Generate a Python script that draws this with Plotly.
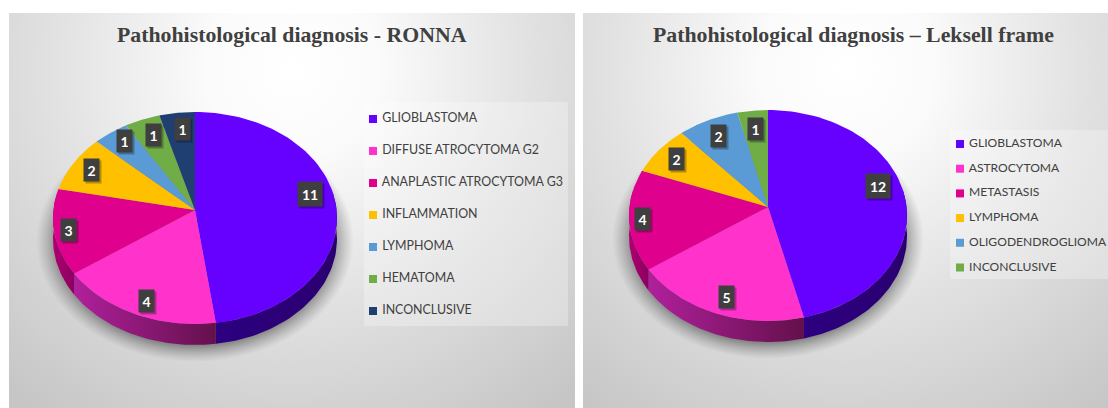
import numpy as np
import plotly.graph_objects as go

# ---- data ----
ronna_title = "Pathohistological diagnosis - RONNA"
ronna_labels = ["GLIOBLASTOMA", "DIFFUSE ATROCYTOMA G2", "ANAPLASTIC ATROCYTOMA G3",
                "INFLAMMATION", "LYMPHOMA", "HEMATOMA", "INCONCLUSIVE"]
ronna_values = [11, 4, 3, 2, 1, 1, 1]
ronna_colors = ["#6600FF", "#FF33CC", "#E0008E", "#FFC000", "#5B9BD5", "#70AD47", "#1F3F73"]

leksell_title = "Pathohistological diagnosis \u2013 Leksell frame"
leksell_labels = ["GLIOBLASTOMA", "ASTROCYTOMA", "METASTASIS", "LYMPHOMA",
                  "OLIGODENDROGLIOMA", "INCONCLUSIVE"]
leksell_values = [12, 5, 4, 2, 2, 1]
leksell_colors = ["#6600FF", "#FF33CC", "#E0008E", "#FFC000", "#5B9BD5", "#70AD47"]

# wall colour pairs (left, right) per slice
wall_left = {"#6600FF": "#2C0080", "#FF33CC": "#B0209C", "#E0008E": "#B00070"}
wall_right = {"#6600FF": "#2A0070", "#FF33CC": "#64104C", "#E0008E": "#8A0060"}

TEXT = "#404040"


def add_gradient_panel(fig, cx, cy, half_w, half_h, suffix):
    xs = [cx - half_w, cx + half_w, cx + half_w, cx - half_w, cx - half_w]
    ys = [cy - half_h, cy - half_h, cy + half_h, cy + half_h, cy - half_h]
    fig.add_trace(go.Scatter(
        x=xs, y=ys, mode="lines", line=dict(width=0), fill="toself",
        fillgradient=dict(type="radial", colorscale=[[0, "#ffffff"], [0.2, "#fbfbfb"], [0.55, "#e2e2e2"], [1, "#c6c6c6"]]),
        hoverinfo="skip", showlegend=False, xaxis="x" + suffix, yaxis="y" + suffix))


def add_pie(fig, values, labels, colors, apex, rx, up, down, depth, radii, shifts, suffix):
    """Draws a tilted pie whose slices come from `values`."""
    ax, ay = apex
    p = (down - up) / (down + up)
    B = up * (1 + p)
    A = rx * np.sqrt(1 - p * p)

    def proj(t_deg, r=1.0):
        t = np.radians(t_deg)
        u, v = r * np.sin(t), r * np.cos(t)
        d = 1 + p * v
        return ax + A * u / d, ay - B * v / d

    vals = np.array(values, float)
    edges = np.concatenate([[0], np.cumsum(vals) / vals.sum() * 360])
    axis = dict(xaxis="x" + suffix, yaxis="y" + suffix)

    # soft cast shadow
    t = np.linspace(0, 360, 181)
    ecy = ay + (down - up) / 2
    fig.add_trace(go.Scatter(
        x=ax + (rx + 17) * np.sin(np.radians(t)),
        y=ecy + depth + 2 + ((up + down) / 2 + 15) * np.cos(np.radians(t)),
        mode="lines", line=dict(width=0), fill="toself",
        fillgradient=dict(type="radial", colorscale=[[0, "rgba(60,60,60,0.6)"], [0.85, "rgba(60,60,60,0.6)"], [1, "rgba(110,110,110,0)"]]),
        hoverinfo="skip", showlegend=False, **axis))

    # side wall (only the front part is visible)
    for i, c in enumerate(colors):
        lo, hi = max(edges[i], 80), min(edges[i + 1], 280)
        if hi <= lo or c not in wall_left:
            continue
        t = np.linspace(lo, hi, 60)
        x, y = proj(t)
        fig.add_trace(go.Scatter(
            x=np.r_[x, x[::-1], x[0]], y=np.r_[y, y[::-1] + depth, y[0]],
            mode="lines", line=dict(width=0), fill="toself",
            fillgradient=dict(type="horizontal", colorscale=[[0, wall_left[c]], [1, wall_right[c]]]),
            hoverinfo="skip", showlegend=False, **axis))

    # top faces
    for i, c in enumerate(colors):
        t = np.linspace(edges[i], edges[i + 1], 80)
        x, y = proj(t)
        fig.add_trace(go.Scatter(
            x=np.r_[ax, x, ax], y=np.r_[ay, y, ay],
            mode="lines", line=dict(width=0), fill="toself", fillcolor=c,
            name=labels[i], text=f"{labels[i]}: {values[i]}", hoverinfo="text",
            hoveron="fills", showlegend=False, **axis))

    # data labels
    for i, v in enumerate(values):
        mid = (edges[i] + edges[i + 1]) / 2 + shifts[i]
        lx, ly = proj(mid, radii[i])
        two = v >= 10
        w = 24 if two else 15
        h = 24 if two else 22
        for dx, bg, txt in ((2, "rgba(0,0,0,0.28)", ""), (0, "#3F3F3F", str(v))):
            fig.add_annotation(
                x=lx + dx, y=ly + dx, text=txt or " ", showarrow=False,
                xref="x" + suffix, yref="y" + suffix, bgcolor=bg, width=w, height=h,
                borderpad=0, font=dict(family="Lato", size=14, color="#ffffff", weight="bold"))


def add_legend(fig, labels, colors, box, mx, y0, step, size, suffix):
    axis = dict(xaxis="x" + suffix, yaxis="y" + suffix)
    x0, x1, y_top, y_bot = box
    fig.add_trace(go.Scatter(
        x=[x0, x1, x1, x0, x0], y=[y_top, y_top, y_bot, y_bot, y_top],
        mode="lines", line=dict(width=0), fill="toself", fillcolor="rgba(255,255,255,0.28)",
        hoverinfo="skip", showlegend=False, **axis))
    ys = [y0 + step * i for i in range(len(labels))]
    fig.add_trace(go.Scatter(
        x=[mx] * len(labels), y=ys, mode="markers+text",
        marker=dict(symbol="square", size=8, color=colors),
        text=[" " + s for s in labels], textposition="middle right",
        textfont=dict(family="Lato", size=size, color=TEXT),
        hoverinfo="skip", showlegend=False, **axis))


fig = go.Figure()
add_gradient_panel(fig, 292, 70, 430, 420, "")
add_gradient_panel(fig, 846, 70, 430, 420, "2")

add_pie(fig, ronna_values, ronna_labels, ronna_colors, (195, 210), 142, 98, 114, 21,
        [.835, .87, .897, .844, .862, .814, .82], [-6.7, -2, 0, 0, 2, 1, 1], "")
add_legend(fig, ronna_labels, ronna_colors, (364, 568, 102, 326), 373, 119, 32, 12.4, "")

add_pie(fig, leksell_values, leksell_labels, leksell_colors, (768, 207), 139, 97, 114, 21,
        [.832, .854, .908, .831, .806, .795], [-7.2, -1.4, 0, 0, 0, 0], "2")
add_legend(fig, leksell_labels, leksell_colors, (950, 1108, 130, 279), 960, 144, 24.7, 12.1, "2")

fig.add_annotation(x=292, y=35, text=f"<b>{ronna_title}</b>", showarrow=False, xref="x", yref="y",
                   font=dict(family="Liberation Serif", size=21.8, color=TEXT))
fig.add_annotation(x=853, y=35, text=f"<b>{leksell_title}</b>", showarrow=False, xref="x2", yref="y2",
                   font=dict(family="Liberation Serif", size=21.8, color=TEXT))

W, H = 1108, 408
hidden = dict(visible=False, fixedrange=True)
fig.update_layout(
    width=W, height=H, margin=dict(l=0, r=0, t=0, b=0, pad=0),
    paper_bgcolor="#ffffff", plot_bgcolor="rgba(0,0,0,0)", showlegend=False,
    xaxis=dict(domain=[9 / W, 575 / W], range=[9, 575], anchor="y", **hidden),
    yaxis=dict(domain=[0, 1 - 13 / H], range=[408, 13], anchor="x", **hidden),
    xaxis2=dict(domain=[583 / W, 1], range=[583, 1108], anchor="y2", **hidden),
    yaxis2=dict(domain=[0, 1 - 13 / H], range=[408, 13], anchor="x2", **hidden),
)
fig.write_html("out.html", config=dict(displayModeBar=False),
               post_script="document.body.style.margin='0';document.body.style.overflow='hidden';")
